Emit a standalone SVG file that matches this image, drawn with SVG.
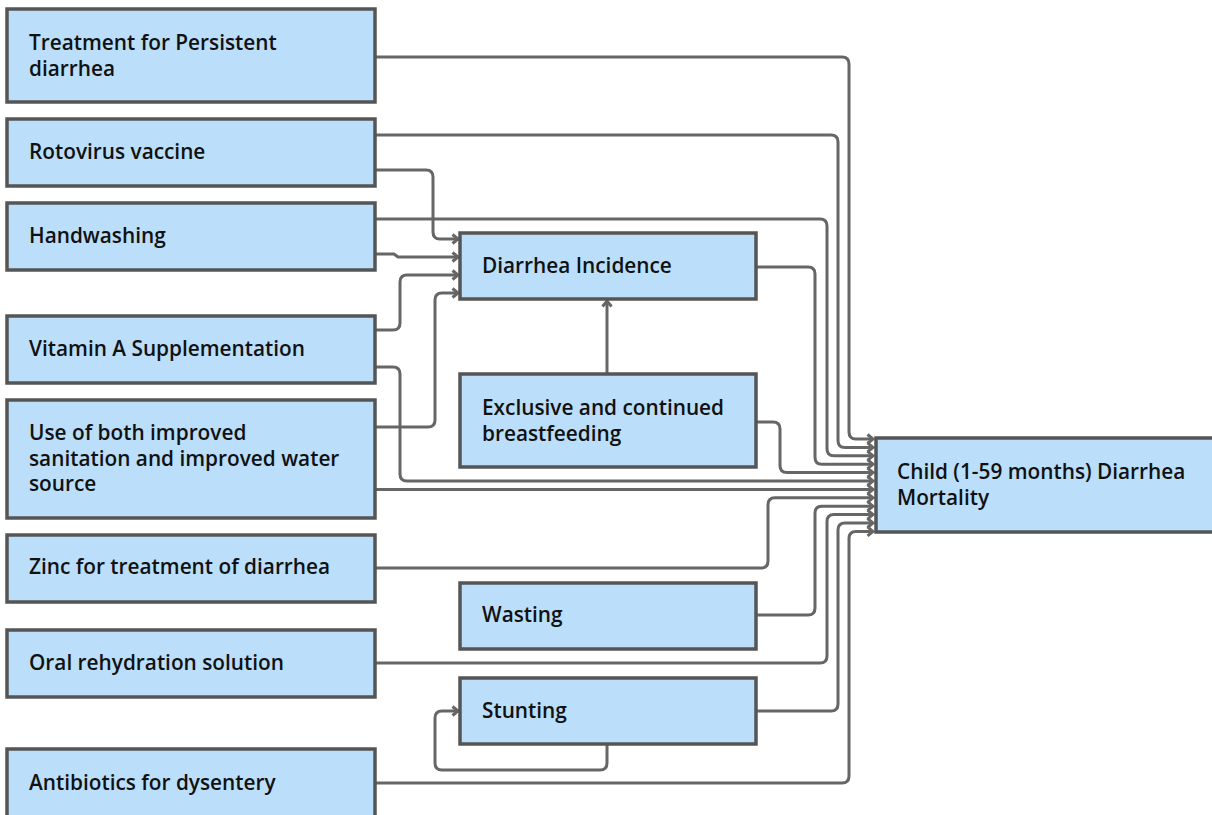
<svg xmlns="http://www.w3.org/2000/svg" width="1212" height="815" viewBox="0 0 1212 815">
<style>
.n{fill:#bbdefb;stroke:#555;stroke-width:3.5}
.t{font-family:"Open Sans","Noto Sans",sans-serif;font-size:20.8px;font-weight:600;fill:#111}
.c{fill:none;stroke:#666;stroke-width:3}
</style>
<defs>
<marker id="a" markerUnits="userSpaceOnUse" markerWidth="10" markerHeight="12" refX="6.5" refY="5" orient="auto" overflow="visible">
<path d="M1,0.5 L6.5,5 L1,9.5" fill="none" stroke="#666" stroke-width="3"/>
</marker>
</defs>
<rect width="1212" height="815" fill="#fff"/>
<g id="connectors">
<path class="c" marker-end="url(#a)" d="M375,57 H842 Q849,57 849,64 V432 Q849,439 856,439 H873"/>
<path class="c" marker-end="url(#a)" d="M375,135 H831 Q838,135 838,142 V440.4 Q838,447.4 845,447.4 H873"/>
<path class="c" marker-end="url(#a)" d="M375,219 H820 Q827,219 827,226 V448.8 Q827,455.8 834,455.8 H873"/>
<path class="c" marker-end="url(#a)" d="M756,267 H808 Q815,267 815,274 V457.2 Q815,464.2 822,464.2 H873"/>
<path class="c" marker-end="url(#a)" d="M756,422 H773 Q780,422 780,429 V465.6 Q780,472.6 787,472.6 H873"/>
<path class="c" marker-end="url(#a)" d="M375,367 H393 Q400,367 400,374 V474 Q400,481 407,481 H873"/>
<path class="c" marker-end="url(#a)" d="M375,489.4 H873"/>
<path class="c" marker-end="url(#a)" d="M375,568 H761 Q768,568 768,561 V504.8 Q768,497.8 775,497.8 H873"/>
<path class="c" marker-end="url(#a)" d="M756,615 H808 Q815,615 815,608 V513.2 Q815,506.2 822,506.2 H873"/>
<path class="c" marker-end="url(#a)" d="M375,663 H820 Q827,663 827,656 V521.6 Q827,514.6 834,514.6 H873"/>
<path class="c" marker-end="url(#a)" d="M756,711 H831 Q838,711 838,704 V530 Q838,523 845,523 H873"/>
<path class="c" marker-end="url(#a)" d="M375,783 H842 Q849,783 849,776 V538.4 Q849,531.4 856,531.4 H873"/>
<path class="c" marker-end="url(#a)" d="M375,170 H426 Q433,170 433,177 V232 Q433,239 440,239 H458"/>
<path class="c" marker-end="url(#a)" d="M375,254 H394 L398,257 H458"/>
<path class="c" marker-end="url(#a)" d="M375,330 H393 Q400,330 400,323 V282 Q400,275 407,275 H458"/>
<path class="c" marker-end="url(#a)" d="M375,427 H428 Q435,427 435,420 V300 Q435,293 442,293 H458"/>
<path class="c" marker-end="url(#a)" d="M607,374 V301"/>
<path class="c" marker-end="url(#a)" d="M607,744 V763 Q607,770 600,770 H442 Q435,770 435,763 V718 Q435,711 442,711 H458"/>
</g>
<g id="n1"><rect class="n" x="7" y="9" width="368" height="93"/><text class="t" x="29" y="50">Treatment for Persistent</text><text class="t" x="29" y="76">diarrhea</text></g>
<g id="n2"><rect class="n" x="7" y="119" width="368" height="67"/><text class="t" x="29" y="159">Rotovirus vaccine</text></g>
<g id="n3"><rect class="n" x="7" y="203" width="368" height="67"/><text class="t" x="29" y="243">Handwashing</text></g>
<g id="n4"><rect class="n" x="7" y="316" width="368" height="67"/><text class="t" x="29" y="356">Vitamin A Supplementation</text></g>
<g id="n5"><rect class="n" x="7" y="400" width="368" height="118"/><text class="t" x="29" y="440">Use of both improved</text><text class="t" x="29" y="465.5">sanitation and improved water</text><text class="t" x="29" y="491">source</text></g>
<g id="n6"><rect class="n" x="7" y="535" width="368" height="67"/><text class="t" x="29" y="574">Zinc for treatment of diarrhea</text></g>
<g id="n7"><rect class="n" x="7" y="630" width="368" height="67"/><text class="t" x="29" y="670">Oral rehydration solution</text></g>
<g id="n8"><rect class="n" x="7" y="749" width="368" height="72"/><text class="t" x="29" y="790">Antibiotics for dysentery</text></g>
<g id="n9"><rect class="n" x="460" y="233" width="296" height="66"/><text class="t" x="482" y="273">Diarrhea Incidence</text></g>
<g id="n10"><rect class="n" x="460" y="374" width="296" height="93"/><text class="t" x="482" y="415">Exclusive and continued</text><text class="t" x="482" y="441">breastfeeding</text></g>
<g id="n11"><rect class="n" x="460" y="583" width="296" height="66"/><text class="t" x="482" y="622">Wasting</text></g>
<g id="n12"><rect class="n" x="460" y="678" width="296" height="66"/><text class="t" x="482" y="718">Stunting</text></g>
<g id="n13"><rect class="n" x="876" y="438" width="345" height="94"/><text class="t" x="897" y="479">Child (1-59 months) Diarrhea</text><text class="t" x="897" y="505">Mortality</text></g>
</svg>
